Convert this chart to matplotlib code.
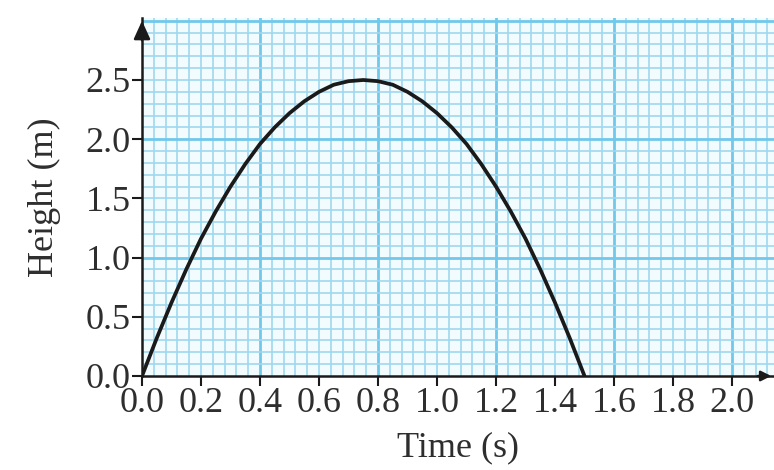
import numpy as np
import matplotlib
matplotlib.use('Agg')
import matplotlib.pyplot as plt

# values
time = [0.0, 0.05, 0.1, 0.15, 0.2, 0.25, 0.3, 0.35, 0.4, 0.45, 0.5, 0.55, 0.6, 0.65,
        0.7, 0.75, 0.8, 0.85, 0.9, 0.95, 1.0, 1.05, 1.1, 1.15, 1.2, 1.25, 1.3, 1.35, 1.4, 1.45, 1.5]
height = [0.0, 0.32, 0.62, 0.90, 1.16, 1.39, 1.60, 1.79, 1.96, 2.10, 2.22, 2.32, 2.40, 2.46,
          2.49, 2.50, 2.49, 2.46, 2.40, 2.32, 2.22, 2.10, 1.96, 1.79, 1.60, 1.39, 1.16, 0.90, 0.62, 0.32, 0.0]
xticks = [0.0, 0.2, 0.4, 0.6, 0.8, 1.0, 1.2, 1.4, 1.6, 1.8, 2.0]
yticks = [0.0, 0.5, 1.0, 1.5, 2.0, 2.5]

plt.rcParams['font.family'] = ['Liberation Serif', 'DejaVu Serif']

fig = plt.figure(figsize=(7.74, 4.70), dpi=100)
ax = fig.add_axes([142/774, 1-376/470, 1-142/774, (376-18)/470])
ax.set_facecolor('#f2fbfe')
ax.set_xlim(0, 632/295)
ax.set_ylim(0, 358/118.4)

# graph paper
for v in np.arange(0.04, 2.15, 0.04):
    major = abs(v/0.4 - round(v/0.4)) < 1e-6
    ax.axvline(v, color='#72c8ea' if major else '#a0d8ee', lw=2.0 if major else 1.2, zorder=1)
for v in np.arange(0.1, 3.05, 0.1):
    major = abs(v - round(v)) < 1e-6
    ax.axhline(v, color='#72c8ea' if major else '#a0d8ee', lw=2.0 if major else 1.2, zorder=1)

ax.plot(time, height, color='#1a1a1a', lw=2.7, zorder=3, solid_capstyle='round')

ax.set_xticks(xticks)
ax.set_yticks(yticks)
ax.set_xticklabels(['%.1f' % t for t in xticks])
ax.set_yticklabels(['%.1f' % t for t in yticks])
ax.tick_params(labelsize=26, length=7, width=1.5, color='#1a1a1a', labelcolor='#2e2e2e', pad=1)
for s in ['top', 'right']:
    ax.spines[s].set_visible(False)
for s in ['left', 'bottom']:
    ax.spines[s].set_linewidth(1.8)
    ax.spines[s].set_color('#1a1a1a')
    ax.spines[s].set_zorder(4)

ax.set_xlabel('Time (s)', fontsize=26, color='#2e2e2e', labelpad=8)
ax.set_ylabel('Height (m)', fontsize=26, color='#2e2e2e', labelpad=18)

# arrow heads on the axes
ax.annotate('', xy=(0, 1.0), xycoords='axes fraction', xytext=(0, 0.93),
            arrowprops=dict(arrowstyle='-|>,head_length=1.1,head_width=0.5', color='#1a1a1a', lw=1.8),
            annotation_clip=False, zorder=5)
ax.annotate('', xy=(1.0, 0), xycoords='axes fraction', xytext=(0.97, 0),
            arrowprops=dict(arrowstyle='-|>,head_length=0.6,head_width=0.3', color='#1a1a1a', lw=1.8),
            annotation_clip=False, zorder=5)

fig.savefig('out.png', dpi=100)
